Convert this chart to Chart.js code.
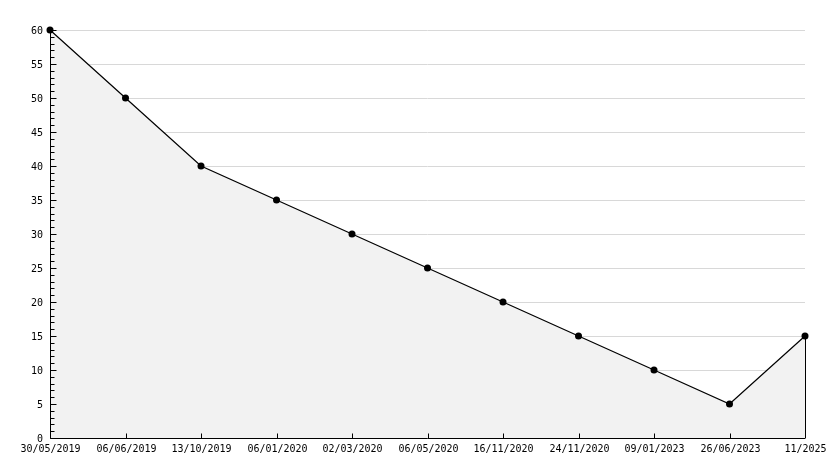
<!DOCTYPE html>
<html>
<head>
<meta charset="utf-8">
<script src="https://cdn.jsdelivr.net/npm/chart.js@4"></script>
<style>
  html, body { margin: 0; padding: 0; background: #fff; }
  #wrap { width: 834px; height: 468px; }
</style>
</head>
<body>
<div id="wrap"><canvas id="chart" width="834" height="468"></canvas></div>
<script>
// --- Data ---
const dateLabels = ['30/05/2019', '06/06/2019', '13/10/2019', '06/01/2020', '02/03/2020',
    '06/05/2020', '16/11/2020', '24/11/2020', '09/01/2023', '26/06/2023', '11/2025'];
const seriesValues = [60, 50, 40, 35, 30, 25, 20, 15, 10, 5, 15];
const yMin = 0;
const yMax = 60;
const yMajorStep = 5;
const yMinorStep = 1;

const FONT = '10px "DejaVu Sans Mono", monospace';

// Draws grid, axes, ticks and labels by hand (old-style plot look)
const axesPlugin = {
    id: 'axesPlugin',
    beforeDatasetsDraw(chart) {
        const { ctx, chartArea: a, scales: { y } } = chart;
        ctx.save();
        ctx.strokeStyle = '#d8d8d8';
        ctx.lineWidth = 1;
        for (let v = yMin + yMajorStep; v <= yMax; v += yMajorStep) {
            const py = Math.round(y.getPixelForValue(v)) + 0.5;
            ctx.beginPath();
            ctx.moveTo(a.left, py);
            ctx.lineTo(a.right, py);
            ctx.stroke();
        }
        ctx.restore();
    },
    afterDatasetsDraw(chart) {
        const { ctx, chartArea: a, scales: { x, y } } = chart;
        ctx.save();
        ctx.strokeStyle = '#000';
        ctx.lineWidth = 1;

        // right edge of the filled area
        const lastX = Math.round(x.getPixelForValue(seriesValues.length - 1)) + 0.5;
        const lastY = y.getPixelForValue(seriesValues[seriesValues.length - 1]);
        ctx.beginPath();
        ctx.moveTo(lastX, lastY);
        ctx.lineTo(lastX, a.bottom);
        ctx.stroke();

        // axis lines
        const ax = Math.round(a.left) + 0.5;
        const ay = Math.round(a.bottom) + 0.5;
        ctx.beginPath();
        ctx.moveTo(ax, a.top);
        ctx.lineTo(ax, ay);
        ctx.lineTo(a.right, ay);
        ctx.stroke();

        // y ticks (inside), major + minor
        ctx.fillStyle = '#000';
        ctx.font = FONT;
        ctx.textAlign = 'right';
        ctx.textBaseline = 'middle';
        for (let v = yMin; v <= yMax; v += yMinorStep) {
            const py = Math.round(y.getPixelForValue(v)) + 0.5;
            const major = v % yMajorStep === 0;
            ctx.beginPath();
            ctx.moveTo(ax, py);
            ctx.lineTo(ax + (major ? 6 : 4), py);
            ctx.stroke();
            if (major) ctx.fillText(String(v), a.left - 7, py + 0.5);
        }

        // x ticks (upward) and labels
        ctx.textAlign = 'center';
        ctx.textBaseline = 'top';
        dateLabels.forEach((lbl, i) => {
            const px = Math.round(x.getPixelForValue(i)) + 0.5;
            ctx.beginPath();
            ctx.moveTo(px, ay);
            ctx.lineTo(px, ay - 5);
            ctx.stroke();
            ctx.fillText(lbl, px, a.bottom + 6);
        });
        ctx.restore();
    }
};

new Chart(document.getElementById('chart'), {
    type: 'line',
    data: {
        labels: dateLabels,
        datasets: [{
            data: seriesValues,
            borderColor: '#000',
            borderWidth: 1.2,
            backgroundColor: '#f2f2f2',
            fill: 'origin',
            tension: 0,
            pointRadius: 3.5,
            pointBackgroundColor: '#000',
            pointBorderColor: '#000',
            pointBorderWidth: 0,
            clip: false
        }]
    },
    options: {
        responsive: false,
        animation: false,
        events: [],
        layout: { padding: { left: 50, right: 29, top: 30, bottom: 30 } },
        plugins: { legend: { display: false }, tooltip: { enabled: false } },
        scales: {
            x: { display: false, offset: false },
            y: { display: false, min: yMin, max: yMax }
        }
    },
    plugins: [axesPlugin]
});
</script>
</body>
</html>
